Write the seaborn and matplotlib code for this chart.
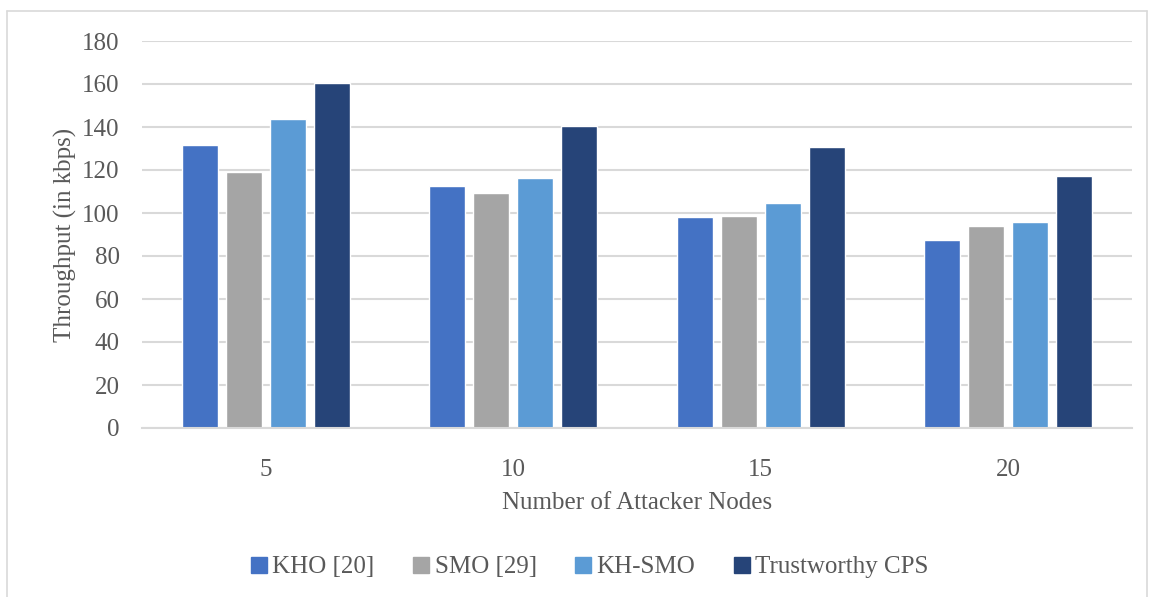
import pandas as pd
import seaborn as sns
import matplotlib.pyplot as plt
from matplotlib.lines import Line2D

# Chart data
nodes = ['5', '10', '15', '20']
methods = ['KHO [20]', 'SMO [29]', 'KH-SMO', 'Trustworthy CPS']
kho = [131.5, 112.5, 98, 87.5]
smo = [119, 109.5, 98.5, 94]
kh_smo = [143.5, 116.5, 104.5, 96]
trust_cps = [160.5, 140.5, 130.5, 117]
y_ticks = [0, 20, 40, 60, 80, 100, 120, 140, 160, 180]

colors = ['#4472C4', '#A5A5A5', '#5B9BD5', '#264478']
TEXT = '#595959'
GRID = '#d9d9d9'

rows = []
for method, values in zip(methods, [kho, smo, kh_smo, trust_cps]):
    for n, v in zip(nodes, values):
        rows.append({'nodes': n, 'method': method, 'throughput': v})
df = pd.DataFrame(rows)

sns.set_theme(style='white')
plt.rcParams['font.family'] = ['Liberation Serif', 'DejaVu Serif']

fig = plt.figure(figsize=(11.54, 5.97), dpi=100)
ax = fig.add_axes([142 / 1154, 1 - 428 / 597, (1132 - 142) / 1154, (428 - 41) / 597])

sns.barplot(data=df, x='nodes', y='throughput', hue='method', order=nodes,
            hue_order=methods, palette=colors, width=0.71, gap=0.18,
            saturation=1, ax=ax, legend=False)

ax.set_ylim(0, 180)
ax.set_xlim(-0.5, 3.5)
ax.set_yticks(y_ticks)
ax.yaxis.grid(True, color=GRID, linewidth=1.5)
ax.set_axisbelow(True)
for side in ['top', 'right', 'left']:
    ax.spines[side].set_visible(False)
ax.spines['bottom'].set_color(GRID)
ax.spines['bottom'].set_linewidth(1.5)
ax.tick_params(axis='both', length=0, labelsize=18, labelcolor=TEXT)
ax.tick_params(axis='y', pad=16)
ax.tick_params(axis='x', pad=22)
ax.set_xlabel('Number of Attacker Nodes', fontsize=18, color=TEXT, labelpad=8)
ax.set_ylabel('Throughput (in kbps)', fontsize=18, color=TEXT, labelpad=4)

handles = [Line2D([], [], marker='s', linestyle='', markersize=11,
                  markerfacecolor=c, markeredgecolor=c) for c in colors]
fig.legend(handles, methods, loc='center', bbox_to_anchor=(0.509, 1 - 567 / 597),
           ncol=4, frameon=False, fontsize=18, labelcolor=TEXT,
           handletextpad=0.05, columnspacing=1.35, handlelength=1.0)

# light outer border of the chart area
bx0, bx1, by0 = 7 / 1154, 1147 / 1154, 1 - 11 / 597
for xs, ys in [([bx0, bx0], [0, by0]), ([bx0, bx1], [by0, by0]), ([bx1, bx1], [by0, 0])]:
    fig.add_artist(Line2D(xs, ys, color=GRID, linewidth=1.2, transform=fig.transFigure))

fig.savefig('out.png', dpi=100)
